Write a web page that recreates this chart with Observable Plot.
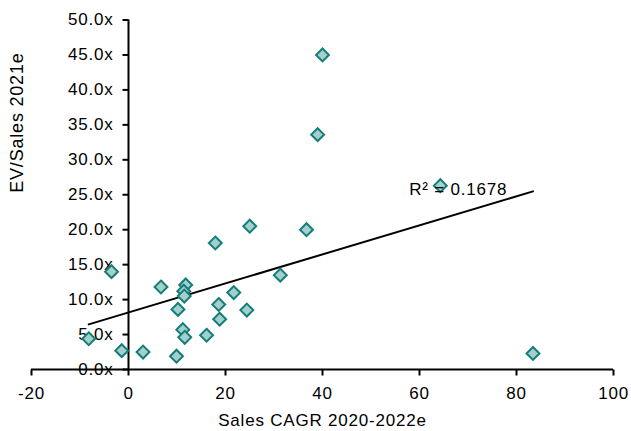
<!DOCTYPE html>
<html>
<head>
<meta charset="utf-8">
<script src="https://cdn.jsdelivr.net/npm/d3@7"></script>
<script src="https://cdn.jsdelivr.net/npm/@observablehq/plot@0.6"></script>
<style>
  html, body { margin: 0; padding: 0; background: #fff; }
</style>
</head>
<body>
<div id="chart"></div>
<script>
// Data
const salesCagr = [40.0, 39.0, 64.3, 25.0, 36.7, 17.9, 31.3, -3.5, 6.7, 11.8, 11.4, 11.5, 21.7, 10.2, 18.6, 24.4, 18.8, 11.2, 11.6, 16.1, -8.2, -1.4, 3.0, 9.9, 83.4];
const evSales   = [45.0, 33.6, 26.3, 20.5, 20.0, 18.1, 13.5, 14.0, 11.8, 12.1, 11.2, 10.5, 11.0, 8.6, 9.3, 8.5, 7.2, 5.7, 4.6, 4.9, 4.4, 2.7, 2.5, 1.9, 2.3];
const xTicks = [-20, 0, 20, 40, 60, 80, 100];
const xTickLabels = ["-20", "0", "20", "40", "60", "80", "100"];
const yTicks = [0, 5, 10, 15, 20, 25, 30, 35, 40, 45, 50];
const yTickLabels = ["0.0x", "5.0x", "10.0x", "15.0x", "20.0x", "25.0x", "30.0x", "35.0x", "40.0x", "45.0x", "50.0x"];
const xTitle = "Sales CAGR 2020-2022e";
const yTitle = "EV/Sales 2021e";
const r2Label = [{x: 68, y: 25.7, text: "R² = 0.1678"}];

const points = salesCagr.map((x, i) => ({x, y: evSales[i]}));
const xTickData = xTicks.map((v, i) => ({v, label: xTickLabels[i]}));
const yTickData = yTicks.map((v, i) => ({v, label: yTickLabels[i]}));

const tickLeft = {draw(ctx) { ctx.moveTo(-6, 0); ctx.lineTo(0, 0); }};
const tickDown = {draw(ctx) { ctx.moveTo(0, 0); ctx.lineTo(0, 6); }};

const chart = Plot.plot({
  width: 631,
  height: 431,
  marginLeft: 31,
  marginRight: 18,
  marginTop: 19.5,
  marginBottom: 62,
  x: {domain: [-20, 100], axis: null},
  y: {domain: [0, 50], axis: null},
  style: {
    fontFamily: "'Liberation Sans', Arial, sans-serif",
    fontSize: "17px",
    letterSpacing: "0.8px",
    color: "#000",
    background: "#fff"
  },
  marks: [
    // axes lines
    Plot.ruleY([0], {x1: -20, x2: 100, stroke: "#000", strokeWidth: 2}),
    Plot.ruleX([0], {y1: 0, y2: 50, stroke: "#000", strokeWidth: 2}),
    // tick marks
    Plot.dot(yTickData, {x: 0, y: "v", symbol: tickLeft, fill: "none", stroke: "#000", strokeWidth: 2}),
    Plot.dot(xTickData, {x: "v", y: 0, symbol: tickDown, fill: "none", stroke: "#000", strokeWidth: 2}),
    // tick labels
    Plot.text(yTickData, {x: 0, y: "v", text: "label", textAnchor: "end", dx: -15, fill: "#000"}),
    Plot.text(xTickData, {x: "v", y: 0, text: "label", dy: 24, fill: "#000"}),
    // titles
    Plot.text([xTitle], {text: d => d, frameAnchor: "bottom", dy: 56, fill: "#000"}),
    Plot.text([yTitle], {text: d => d, frameAnchor: "left", rotate: -90, dx: -14, dy: -2, fontSize: 18, fill: "#000"}),
    // trendline
    Plot.linearRegressionY(points, {x: "x", y: "y", stroke: "#000", strokeWidth: 2, ci: 0}),
    // points
    Plot.dot(points, {x: "x", y: "y", symbol: "diamond2", r: 5.8, fill: "#a3d0cc", stroke: "#157d79", strokeWidth: 2}),
    // R² label
    Plot.text(r2Label, {x: "x", y: "y", text: "text", fill: "#000"})
  ]
});
document.getElementById("chart").appendChild(chart);
</script>
</body>
</html>
